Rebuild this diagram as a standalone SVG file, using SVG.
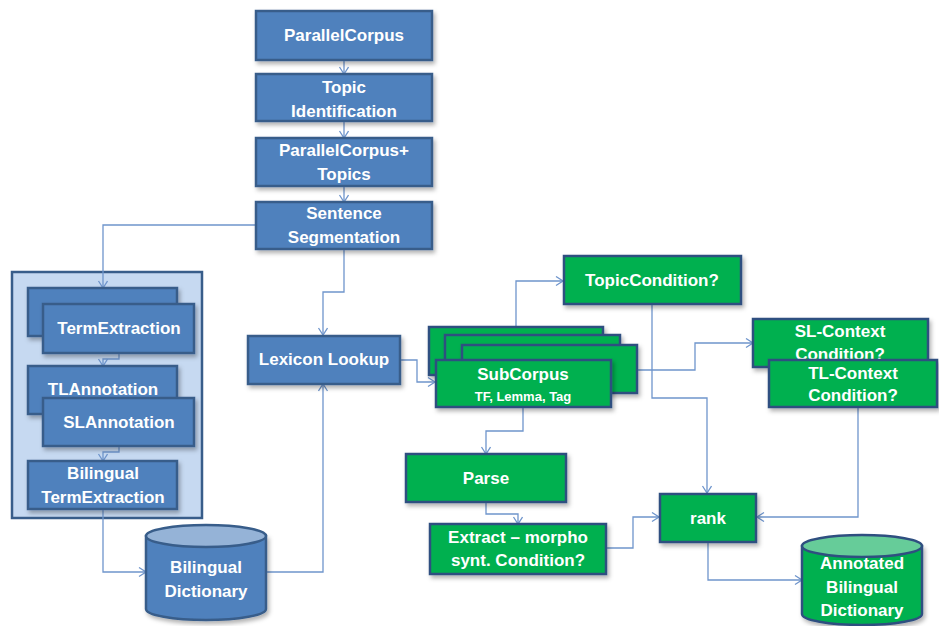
<svg xmlns="http://www.w3.org/2000/svg" width="939" height="626" viewBox="0 0 939 626">
<defs>
<filter id="sh" x="-10%" y="-10%" width="130%" height="140%">
<feDropShadow dx="2" dy="3" stdDeviation="2" flood-color="#000" flood-opacity="0.3"/>
</filter>
<marker id="ar" markerUnits="userSpaceOnUse" markerWidth="12" markerHeight="12" refX="8" refY="5" orient="auto">
<path d="M1,0.5 L8,5 L1,9.5" fill="none" stroke="#6f95cc" stroke-width="1.3"/>
</marker>
</defs>
<style>
.b{fill:#4f81bd;stroke:#385d8a;stroke-width:2.5;filter:url(#sh)}
.g{fill:#00b050;stroke:#2f4f80;stroke-width:2.5;filter:url(#sh)}
.t{font-family:"Liberation Sans",Arial,sans-serif;font-weight:bold;font-size:17px;fill:#fff;text-anchor:middle}
.s{font-size:13px}
.ca{fill:none;stroke:#6f95cc;stroke-width:1.3;marker-end:url(#ar)}
</style>
<rect id="container" x="12" y="272" width="190" height="246" fill="#c6d9f1" stroke="#385d8a" stroke-width="2.5"/>
<g id="connectors">
<path class="ca" d="M344,60 V74"/>
<path class="ca" d="M344,121 V138"/>
<path class="ca" d="M344,186 V202"/>
<path class="ca" d="M256,225 H103 V288"/>
<path class="ca" d="M119,353 V359 H103 V366"/>
<path class="ca" d="M119,446 V452 H103 V461"/>
<path class="ca" d="M103,509 V572 H146"/>
<path class="ca" d="M266,572 H323 V384"/>
<path class="ca" d="M344,249 V292 H323 V335"/>
<path class="ca" d="M400,360 H417 V382 H435"/>
<path class="ca" d="M516,327 V281 H563"/>
<path class="ca" d="M637,370 H695 V343 H753"/>
<path class="ca" d="M652,304 V398 H707 V493"/>
<path class="ca" d="M858,407 V517 H757"/>
<path class="ca" d="M606,548 H633 V517 H659"/>
<path class="ca" d="M523,407 V431 H486 V454"/>
<path class="ca" d="M486,502 V514 H518 V524"/>
<path class="ca" d="M708,542 V580 H802"/>
</g>
<g id="parallelcorpus"><rect class="b" x="256" y="11" width="176" height="49"/><text class="t" x="344" y="41">ParallelCorpus</text></g>
<g id="topicidentification"><rect class="b" x="256" y="74" width="176" height="47"/><text class="t" x="344" y="93">Topic</text><text class="t" x="344" y="117">Identification</text></g>
<g id="parallelcorpustopics"><rect class="b" x="256" y="138" width="176" height="48"/><text class="t" x="344" y="156">ParallelCorpus+</text><text class="t" x="344" y="180">Topics</text></g>
<g id="sentencesegmentation"><rect class="b" x="256" y="202" width="176" height="47"/><text class="t" x="344" y="219">Sentence</text><text class="t" x="344" y="243">Segmentation</text></g>
<g id="termextraction"><rect class="b" x="28" y="288" width="149" height="48"/><rect class="b" x="43" y="304" width="151" height="49"/><text class="t" x="119" y="334">TermExtraction</text></g>
<g id="tlannotation"><rect class="b" x="28" y="366" width="149" height="48"/><text class="t" x="103" y="395">TLAnnotation</text></g>
<g id="slannotation"><rect class="b" x="43" y="398" width="151" height="48"/><text class="t" x="119" y="428">SLAnnotation</text></g>
<g id="bilingualtermextraction"><rect class="b" x="28" y="461" width="149" height="48"/><text class="t" x="103" y="479">Bilingual</text><text class="t" x="103" y="503">TermExtraction</text></g>
<g id="bilingualdictionary"><path d="M146,536 V609 A60,11 0 0 0 266,609 V536 Z" fill="#4f81bd" stroke="#385d8a" stroke-width="2.5" filter="url(#sh)"/><ellipse cx="206" cy="536" rx="60" ry="11" fill="#95b3d7" stroke="#385d8a" stroke-width="2.5"/><text class="t" x="206" y="573">Bilingual</text><text class="t" x="206" y="597">Dictionary</text></g>
<g id="lexiconlookup"><rect class="b" x="248" y="336" width="152" height="48"/><text class="t" x="324" y="365">Lexicon Lookup</text></g>
<g id="subcorpus"><rect class="g" x="429" y="327" width="174" height="48"/><rect class="g" x="445" y="335" width="175" height="48"/><rect class="g" x="462" y="345" width="175" height="48"/><rect class="g" x="436" y="360" width="175" height="47"/><text class="t" x="523" y="380">SubCorpus</text><text class="t s" x="523" y="401">TF, Lemma,  Tag</text></g>
<g id="topiccondition"><rect class="g" x="564" y="256" width="177" height="48"/><text class="t" x="652" y="286">TopicCondition?</text></g>
<g id="slcontext"><rect class="g" x="753" y="319" width="175" height="48"/><text class="t" x="840" y="337">SL-Context</text><text class="t" x="840" y="360">Condition?</text></g>
<g id="tlcontext"><rect class="g" x="769" y="360" width="168" height="47"/><text class="t" x="853" y="379">TL-Context</text><text class="t" x="853" y="401">Condition?</text></g>
<g id="parse"><rect class="g" x="406" y="454" width="160" height="48"/><text class="t" x="486" y="484">Parse</text></g>
<g id="extract"><rect class="g" x="430" y="524" width="176" height="50"/><text class="t" x="518" y="543">Extract – morpho</text><text class="t" x="518" y="566">synt. Condition?</text></g>
<g id="rank"><rect class="g" x="660" y="494" width="96" height="48"/><text class="t" x="708" y="524">rank</text></g>
<g id="annotateddictionary"><path d="M802,546 V614 A60,11 0 0 0 922,614 V546 Z" fill="#00b050" stroke="#2f4f80" stroke-width="2.5" filter="url(#sh)"/><ellipse cx="862" cy="546" rx="60" ry="11" fill="#66cc99" stroke="#2f4f80" stroke-width="2.5"/><text class="t" x="862" y="569">Annotated</text><text class="t" x="862" y="593">Bilingual</text><text class="t" x="862" y="616">Dictionary</text></g>
</svg>
